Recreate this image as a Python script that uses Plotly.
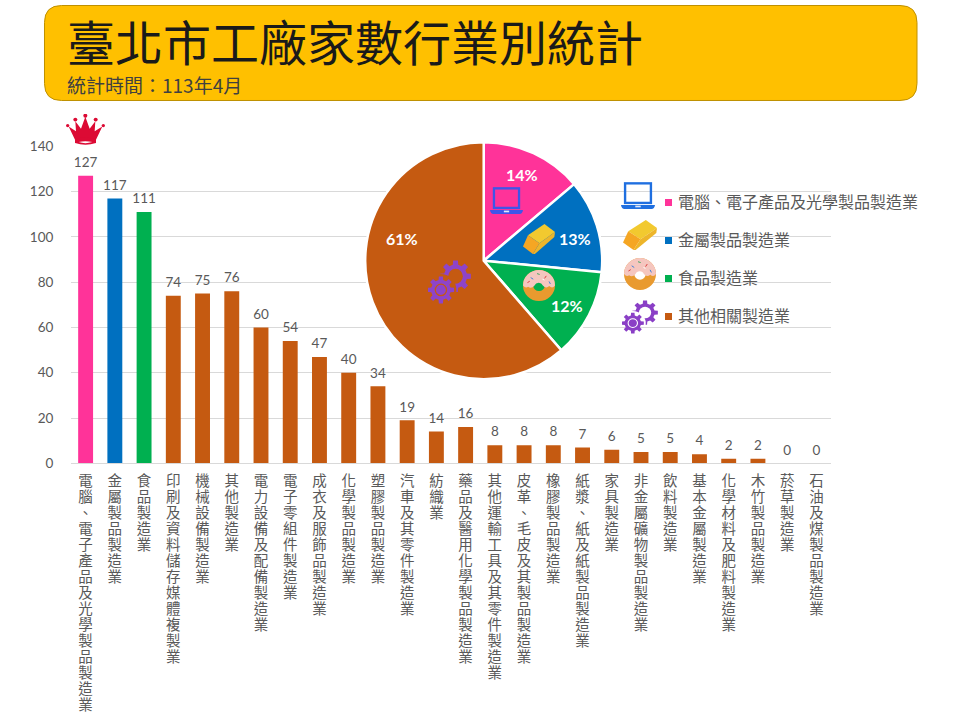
import base64, math
import plotly.graph_objects as go

W, H = 960, 720

categories = ["電腦、電子產品及光學製品製造業", "金屬製品製造業", "食品製造業", "印刷及資料儲存媒體複製業",
              "機械設備製造業", "其他製造業", "電力設備及配備製造業", "電子零組件製造業", "成衣及服飾品製造業",
              "化學製品製造業", "塑膠製品製造業", "汽車及其零件製造業", "紡織業", "藥品及醫用化學製品製造業",
              "其他運輸工具及其零件製造業", "皮革、毛皮及其製品製造業", "橡膠製品製造業", "紙漿、紙及紙製品製造業",
              "家具製造業", "非金屬礦物製品製造業", "飲料製造業", "基本金屬製造業", "化學材料及肥料製造業",
              "木竹製品製造業", "菸草製造業", "石油及煤製品製造業"]
values = [127, 117, 111, 74, 75, 76, 60, 54, 47, 40, 34, 19, 14, 16, 8, 8, 8, 7, 6, 5, 5, 4, 2, 2, 0, 0]
y_ticks = [0, 20, 40, 60, 80, 100, 120, 140]

pie_labels = ["電腦、電子產品及光學製品製造業", "金屬製品製造業", "食品製造業", "其他相關製造業"]
pie_values = [127, 117, 111, 564]

PINK, BLUE, GREEN, BROWN = "#FF3399", "#0070C0", "#00B050", "#C55A11"
pie_colors = [PINK, BLUE, GREEN, BROWN]
bar_colors = [PINK, BLUE, GREEN] + [BROWN] * (len(values) - 3)

GREY = "#595959"
CJK = "Noto Sans CJK TC"
NUM = "Lato"


def px(x):
    return x / W


def py(y):
    return 1 - y / H


def svg_uri(body, vw, vh):
    s = f'<svg xmlns="http://www.w3.org/2000/svg" viewBox="0 0 {vw} {vh}">{body}</svg>'
    return "data:image/svg+xml;base64," + base64.b64encode(s.encode()).decode()


def gear(cx, cy, ro, ri, teeth):
    pts = []
    n = teeth
    for k in range(n):
        a = 2 * math.pi * k / n
        w = 2 * math.pi / n
        for da, r in ((-0.30, ri), (-0.20, ro), (0.20, ro), (0.30, ri)):
            t = a + da * w
            pts.append(f"{cx + r * math.cos(t):.1f},{cy + r * math.sin(t):.1f}")
    return "M" + " L".join(pts) + " Z"


def circ(cx, cy, r):
    return f"M{cx - r},{cy} a{r},{r} 0 1,0 {2 * r},0 a{r},{r} 0 1,0 {-2 * r},0 Z"


def laptop(col):
    return svg_uri(
        f'<rect x="12" y="4" width="76" height="58" fill="none" stroke="{col}" stroke-width="7"/>'
        f'<path d="M0,68 H100 Q98,80 90,80 H10 Q2,80 0,68 Z" fill="{col}"/>'
        f'<rect x="42" y="70" width="16" height="5" fill="#dfe8fa"/>', 100, 80)


GOLD = svg_uri(
    '<polygon points="15,35 65,0 97,25 50,60" fill="#F2C92F"/>'
    '<polygon points="50,60 97,25 95,40 36,93 30,93" fill="#EDB52A"/>'
    '<polygon points="0,70 15,35 50,60 30,93" fill="#F5A623"/>', 97, 93)

DONUT = svg_uri(
    f'<path fill-rule="evenodd" d="{circ(50, 50, 50)} {circ(50, 50, 18)}" fill="#E99A2F"/>'
    f'<path fill-rule="evenodd" d="M0,50 A50,50 0 0 1 100,50 Q92,62 82,52 Q72,62 62,50 '
    f'A14,14 0 0 0 36,50 Q26,62 16,54 Q8,60 0,50 Z" fill="#F5C6BF"/>'
    '<g stroke-width="3" stroke-linecap="round">'
    '<path d="M25,25 l6,4" stroke="#3B7DD8"/><path d="M45,12 l6,2" stroke="#3BA55D"/>'
    '<path d="M72,20 l-4,6" stroke="#D93A3A"/><path d="M82,38 l3,6" stroke="#3B7DD8"/>'
    '<path d="M15,40 l5,-3" stroke="#D93A3A"/><path d="M62,30 l4,2" stroke="#FFFFFF"/></g>', 100, 100)


def gears(col, hole):
    big = gear(64, 37, 36, 27, 8)
    small = gear(30, 68, 31, 23, 8)
    return svg_uri(
        '<defs><mask id="m"><rect width="100" height="100" fill="#fff"/>'
        '<circle cx="30" cy="68" r="36" fill="#000"/>'
        '<circle cx="64" cy="37" r="17" fill="#000"/></mask></defs>'
        f'<path d="{big}" fill="{col}" mask="url(#m)"/>'
        f'<path d="{small}" fill="{col}"/>'
        f'<circle cx="30" cy="68" r="13" fill="none" stroke="{hole}" stroke-width="3"/>', 100, 100)


CROWN = svg_uri(
    '<g fill="#DC0A34">'
    '<path d="M8,38 L30,52 L28,22 L45,45 L58,8 L71,45 L88,22 L86,52 L109,38 L90,78 H27 Z"/>'
    '<path fill-rule="evenodd" d="M27,76 Q58,66 90,76 L90,88 Q58,98 27,88 Z '
    'M38,85 Q58,92 79,85 Q58,80 38,85 Z"/>'
    '<circle cx="5" cy="35" r="5"/><circle cx="28" cy="17" r="6"/><circle cx="58" cy="5" r="6"/>'
    '<circle cx="89" cy="17" r="6"/><circle cx="112" cy="35" r="5"/></g>', 117, 94)

icons = [
    (CROWN, 66, 114, 105, 145),
    (laptop("#3F55E8"), 490, 187, 523, 214),
    (GOLD, 523, 224, 555, 254),
    (DONUT, 523, 270, 555, 301),
    (gears("#8E44C9", "#C55A11"), 428, 260, 471, 304),
    (laptop("#1F6FE0"), 621, 182, 655, 209),
    (GOLD, 623, 220, 657, 250),
    (DONUT, 624, 258, 656, 290),
    (gears("#8A3FC6", "#FFFFFF"), 622, 300, 658, 334),
]

fig = go.Figure()
fig.add_trace(go.Bar(
    x=categories, y=values, marker=dict(color=bar_colors, line_width=0), width=0.51, showlegend=False,
))
# value labels: an invisible marker holds each label clear of its bar
fig.add_trace(go.Scatter(
    x=categories, y=values, mode="markers+text", text=[str(v) for v in values], textposition="top center",
    marker=dict(size=7, opacity=0), textfont=dict(family=NUM, size=13.5, color=GREY), cliponaxis=False,
    showlegend=False,
))
fig.add_trace(go.Pie(
    labels=pie_labels, values=pie_values, sort=False, direction="clockwise", rotation=0,
    marker=dict(colors=pie_colors, line=dict(color="white", width=2.5)),
    textinfo="none",
    domain=dict(x=[px(365.2), px(602.2)], y=[py(379.2), py(142.2)]),
    showlegend=False,
))

shapes = []
# title banner, rounded rectangle
bx0, by0, bx1, by1, r = 44.5, 5.5, 917, 100.5, 17
corner = [(bx0 + r, by0), (bx1 - r, by0), (bx1, by0), (bx1, by0 + r), (bx1, by1 - r), (bx1, by1), (bx1 - r, by1),
          (bx0 + r, by1), (bx0, by1), (bx0, by1 - r), (bx0, by0 + r), (bx0, by0), (bx0 + r, by0)]
c = [f"{px(a):.5f},{py(b):.5f}" for a, b in corner]
banner = (f"M{c[0]} L{c[1]} Q{c[2]} {c[3]} L{c[4]} Q{c[5]} {c[6]} L{c[7]} "
          f"Q{c[8]} {c[9]} L{c[10]} Q{c[11]} {c[12]} Z")
shapes.append(dict(type="path", xref="paper", yref="paper", path=banner, fillcolor="#FFC000",
                   line=dict(color="#BF9000", width=1), layer="below"))

annotations = [
    dict(text="臺北市工廠家數行業別統計", x=px(65), y=py(40), xref="paper", yref="paper", xanchor="left",
         yanchor="middle", showarrow=False, font=dict(family=CJK, size=48, color="#1a1a1a")),
    dict(text="統計時間：113年4月", x=px(65), y=py(84), xref="paper", yref="paper", xanchor="left",
         yanchor="middle", showarrow=False, font=dict(family=CJK, size=19, color="#404040")),
]
for i, (lab, col) in enumerate(zip(pie_labels, pie_colors)):
    yc = 202.5 + 38 * i
    shapes.append(dict(type="rect", xref="paper", yref="paper", x0=px(665), x1=px(672),
                       y0=py(yc - 3.5), y1=py(yc + 3.5), fillcolor=col, line_width=0))
    annotations.append(dict(text=lab, x=px(675.5), y=py(yc - 1.5), xref="paper", yref="paper", xanchor="left",
                            yanchor="middle", showarrow=False, font=dict(family=CJK, size=16, color=GREY)))

pie_total = sum(pie_values)
pie_text_at = [(522, 174), (575, 239), (567, 305), (402, 239)]
for v, (tx, ty) in zip(pie_values, pie_text_at):
    annotations.append(dict(text=f"{v / pie_total:.0%}", x=px(tx), y=py(ty), xref="paper", yref="paper",
                            xanchor="center", yanchor="middle", showarrow=False,
                            font=dict(family=NUM, size=16, color="white", weight="bold")))

images = [dict(source=s, xref="paper", yref="paper", x=px(x0), y=py(y0), sizex=px(x1 - x0), sizey=(y1 - y0) / H,
               xanchor="left", yanchor="top", sizing="stretch", layer="above")
          for s, x0, y0, x1, y1 in icons]

fig.update_layout(
    width=W, height=H, margin=dict(l=0, r=0, t=0, b=0, autoexpand=False), paper_bgcolor="white",
    plot_bgcolor="rgba(0,0,0,0)",
    font=dict(family=CJK, color=GREY), showlegend=False, shapes=shapes, annotations=annotations, images=images,
    xaxis=dict(domain=[px(71), px(831)], type="category", categoryorder="array", categoryarray=categories,
               range=[-0.5, len(categories) - 0.5],
               tickmode="array", tickvals=categories, ticktext=categories, ticklabeloverflow="allow",
               tickangle=0, ticks="", showgrid=False, automargin=False,
               showline=True, linecolor="#D9D9D9", linewidth=1, tickfont=dict(family=CJK, size=14.5, color=GREY)),
    yaxis=dict(domain=[py(463.3), py(146.3)], range=[0, 140], tickvals=y_ticks, gridcolor="#D9D9D9", gridwidth=1,
               zeroline=False, ticks="outside", ticklen=14, tickcolor="rgba(0,0,0,0)", automargin=False,
               tickfont=dict(family=NUM, size=13.5, color=GREY)),
)

# Category labels stand upright and read downwards, as in the reference.
post = """
document.body.style.margin='0';document.documentElement.style.overflow='hidden';
var gd=document.getElementById('{plot_id}');
function upright(){
  document.querySelectorAll('.xtick text').forEach(function(t){
    t.style.writingMode='vertical-rl';
    t.style.textOrientation='upright';
    t.style.letterSpacing='1.5px';
    t.setAttribute('text-anchor','start');
    t.style.textAnchor='start';
    t.setAttribute('y','473');
  });
}
upright();setTimeout(upright,50);setTimeout(upright,300);
if(gd&&gd.on){gd.on('plotly_afterplot',upright);}
"""
fig.write_html("out.html", post_script=post, config=dict(displayModeBar=False))
